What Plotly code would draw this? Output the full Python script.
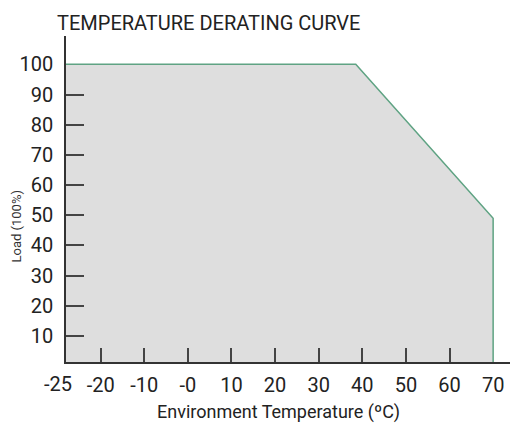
import numpy as np
import plotly.graph_objects as go

# Data
tick_labels = ["-25", "-20", "-10", "-0", "10", "20", "30", "40", "50", "60", "70"]
tick_temps = [-25, -20, -10, 0, 10, 20, 30, 40, 50, 60, 70]
curve_temp = [-25, 38.5, 70, 70]
curve_load = [100, 100, 49, 0]
y_tick_vals = [10, 20, 30, 40, 50, 60, 70, 80, 90, 100]

idx = list(range(len(tick_temps)))
curve_x = np.interp(curve_temp, tick_temps, idx)

OFF = 8  # page body margin of the browser
W, H = 518 - OFF, 425 - OFF
L, R, T, B = 66 - OFF, 0, 36 - OFF, 63
pw, ph = W - L - R, H - T - B

def px(x):
    return (x - OFF - L) / pw

def py(y):
    return (H - B - (y - OFF)) / ph

fig = go.Figure()
fig.add_trace(go.Scatter(
    x=curve_x, y=curve_load, mode="lines",
    line=dict(color="#5fa383", width=1.5),
    fill="tozeroy", fillcolor="#dedede",
    hoverinfo="skip", showlegend=False,
))

font_main = "Roboto, Arial, sans-serif"
fig.update_layout(
    width=W, height=H,
    margin=dict(l=L, r=R, t=T, b=B, pad=0),
    paper_bgcolor="white", plot_bgcolor="white",
    font=dict(family=font_main, color="#222"),
    xaxis=dict(
        range=[0.206, 10.57],
        tickmode="array", tickvals=idx, ticktext=tick_labels,
        ticks="", showgrid=False, zeroline=False,
        showline=True, linecolor="#333", linewidth=1.5,
        tickfont=dict(size=20, color="#222"),
        ticklabelstandoff=4,
        minor=dict(tickmode="array", tickvals=idx[1:10], ticks="inside",
                   ticklen=14, tickwidth=1.5, tickcolor="#444", showgrid=False),
    ),
    yaxis=dict(
        range=[1.39, 109.4],
        tickmode="array", tickvals=y_tick_vals,
        ticks="", showgrid=False, zeroline=False,
        showline=True, linecolor="#333", linewidth=1.5,
        tickfont=dict(size=20, color="#222"),
        ticklabelstandoff=7,
        minor=dict(tickmode="array", tickvals=y_tick_vals[:-1], ticks="inside",
                   ticklen=18, tickwidth=1.5, tickcolor="#444", showgrid=False),
    ),
    annotations=[
        dict(text=tick_labels[0], xref="paper", yref="paper",
             x=px(58), y=py(384), xanchor="center", yanchor="middle",
             showarrow=False, font=dict(size=20, color="#222")),
        dict(text="TEMPERATURE DERATING CURVE", xref="paper", yref="paper",
             x=px(55), y=py(9), xanchor="left", yanchor="top",
             showarrow=False, font=dict(size=20, color="#222")),
        dict(text="Environment Temperature (ºC)", xref="paper", yref="paper",
             x=px(278), y=py(412), xanchor="center", yanchor="middle",
             showarrow=False, font=dict(size=18, color="#222")),
        dict(text="Load (100%)", xref="paper", yref="paper",
             x=px(16), y=py(226.5), xanchor="center", yanchor="middle",
             textangle=-90, showarrow=False, font=dict(size=13, color="#333")),
    ],
)

fig.write_html("out.html")
